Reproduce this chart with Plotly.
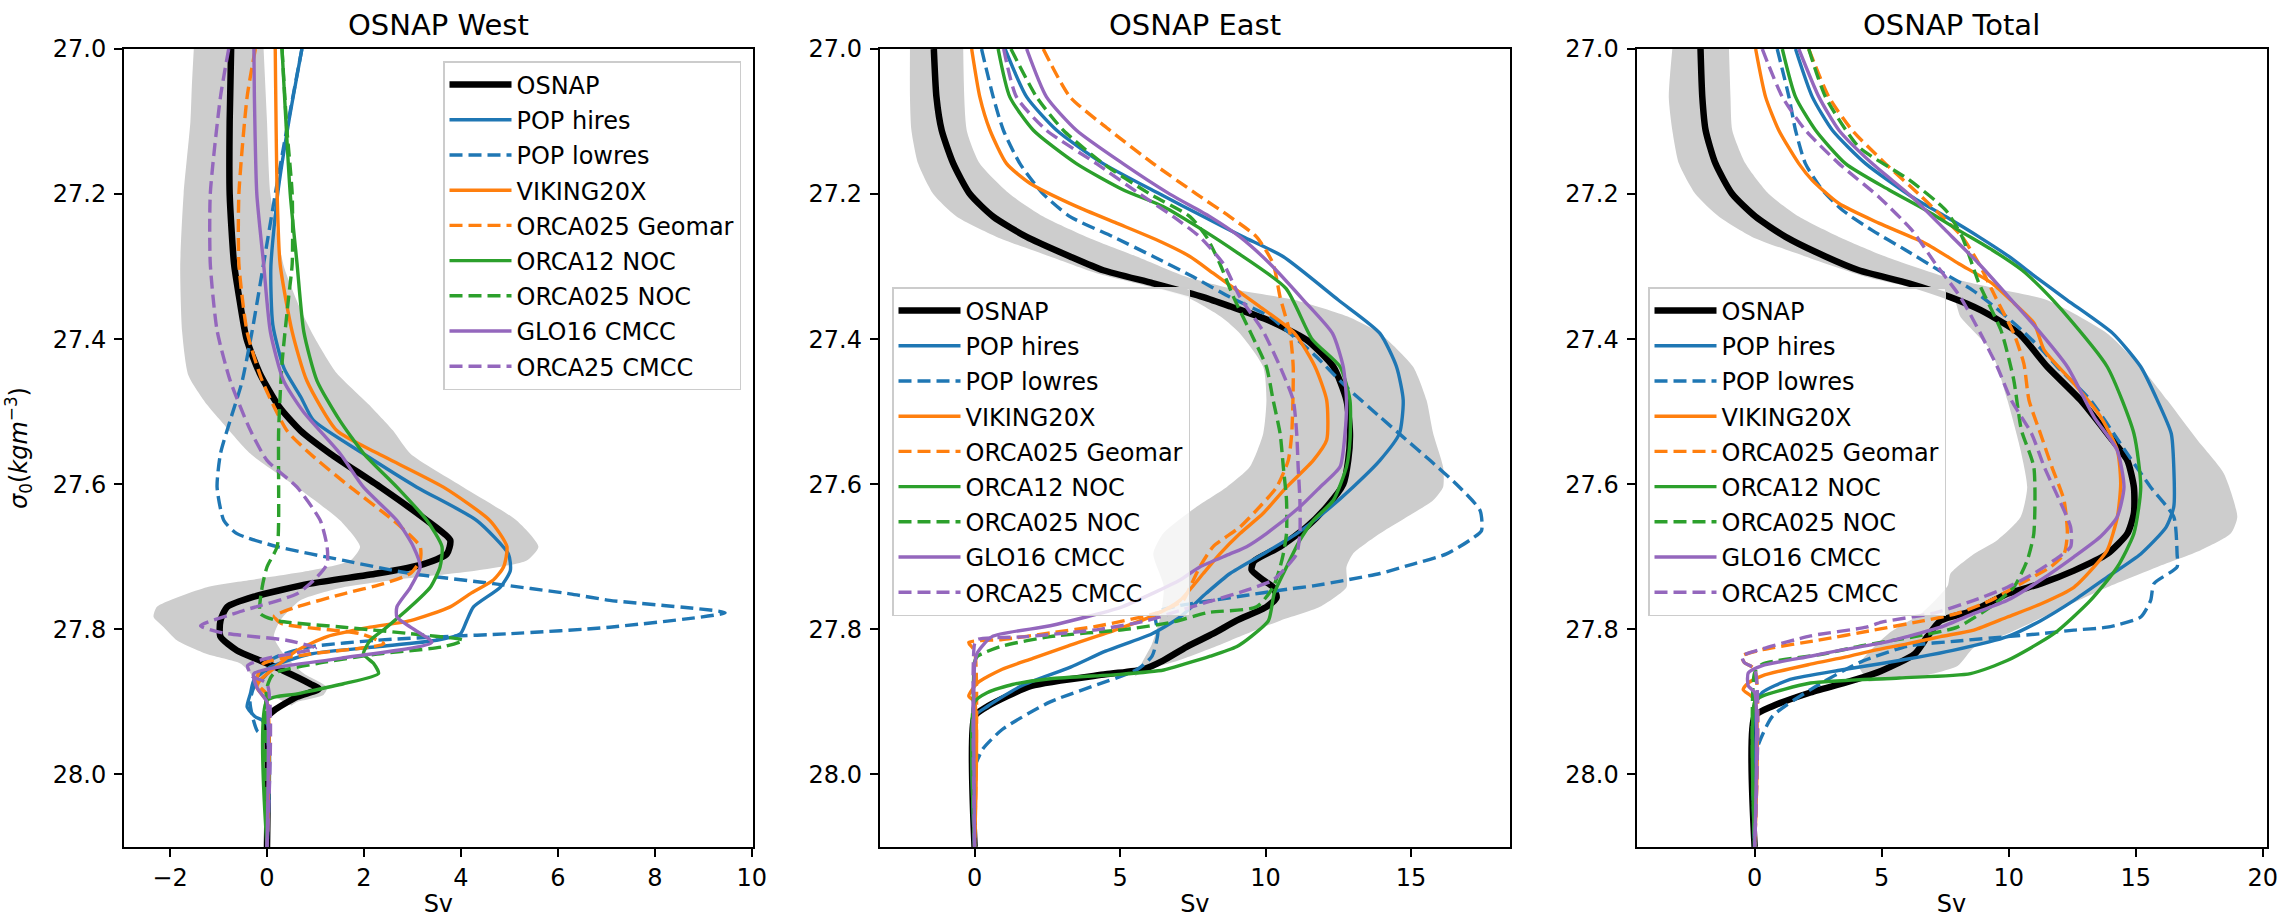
import plotly.graph_objects as go

# ===================== OSNAP West =====================
W_BAND_LEFT_SIG = [27.0, 27.05, 27.1, 27.2, 27.3, 27.39, 27.45, 27.49, 27.512, 27.558, 27.604, 27.65, 27.686, 27.705, 27.719, 27.732, 27.742, 27.769, 27.783, 27.797, 27.815, 27.834, 27.847, 27.861, 27.88, 27.895, 27.905]
W_BAND_LEFT_SV = [-1.51, -1.55, -1.58, -1.72, -1.79, -1.75, -1.62, -1.24, -0.96, -0.34, 0.62, 1.51, 1.92, 1.72, 0.89, -0.34, -1.24, -2.27, -2.34, -2.13, -1.86, -1.24, -0.55, -0.34, -0.21, 0.21, 0.5]
W_BAND_RIGHT_SIG = [27.0, 27.1, 27.2, 27.3, 27.36, 27.4, 27.447, 27.49, 27.526, 27.558, 27.604, 27.65, 27.686, 27.705, 27.719, 27.732, 27.742, 27.76, 27.788, 27.81, 27.834, 27.861, 27.88, 27.89, 27.9, 27.905]
W_BAND_RIGHT_SV = [-0.07, 0.0, 0.07, 0.35, 0.7, 1.0, 1.44, 2.1, 2.6, 2.96, 4.05, 5.15, 5.6, 5.36, 4.33, 2.61, 1.58, 0.69, 0.27, 0.14, 0.34, 0.76, 1.24, 1.17, 0.62, 0.5]

W_OSNAP_SIG = [27.0, 27.1, 27.2, 27.296, 27.34, 27.4, 27.447, 27.493, 27.526, 27.558, 27.604, 27.65, 27.677, 27.696, 27.71, 27.723, 27.737, 27.755, 27.769, 27.788, 27.81, 27.829, 27.843, 27.857, 27.875, 27.882, 27.893, 27.912, 27.925, 27.935, 28.1]
W_OSNAP_SV = [-0.74, -0.77, -0.77, -0.68, -0.58, -0.42, -0.15, 0.25, 0.69, 1.31, 2.34, 3.30, 3.78, 3.71, 3.23, 2.27, 0.89, -0.27, -0.82, -0.96, -0.96, -0.62, -0.14, 0.34, 0.89, 1.07, 0.62, 0.14, -0.05, 0.0, 0.0]

W_POPH_SIG = [27.0, 27.1, 27.2, 27.3, 27.38, 27.44, 27.48, 27.512, 27.558, 27.604, 27.65, 27.696, 27.719, 27.742, 27.769, 27.788, 27.806, 27.815, 27.824, 27.834, 27.852, 27.87, 27.888, 27.907, 27.92, 27.93, 28.1]
W_POPH_SV = [0.72, 0.45, 0.22, 0.08, 0.12, 0.35, 0.7, 0.96, 1.99, 3.09, 4.33, 4.98, 5.02, 4.81, 4.26, 4.12, 3.99, 3.5, 2.27, 0.89, 0.07, -0.27, -0.34, -0.41, -0.25, 0.0, 0.0]

W_POPL_SIG = [27.0, 27.11, 27.2, 27.296, 27.39, 27.46, 27.512, 27.558, 27.604, 27.65, 27.668, 27.686, 27.705, 27.723, 27.737, 27.751, 27.76, 27.777, 27.797, 27.806, 27.81, 27.815, 27.824, 27.834, 27.843, 27.861, 27.88, 27.9, 27.92, 27.94, 27.95, 28.1]
W_POPL_SV = [0.72, 0.41, 0.17, -0.07, -0.31, -0.52, -0.76, -0.96, -1.03, -0.89, -0.62, 0.21, 1.58, 2.96, 4.67, 6.25, 7.07, 9.45, 7.07, 5.0, 3.64, 2.27, 0.89, 0.34, 0.07, 0.0, -0.27, -0.35, -0.3, -0.2, 0.0, 0.0]

W_VIK_SIG = [27.0, 27.2, 27.296, 27.39, 27.457, 27.526, 27.558, 27.604, 27.65, 27.686, 27.714, 27.732, 27.751, 27.769, 27.788, 27.797, 27.81, 27.829, 27.847, 27.87, 27.88, 27.9, 28.1]
W_VIK_SV = [0.17, 0.21, 0.27, 0.52, 0.82, 1.44, 2.3, 3.64, 4.6, 4.95, 4.88, 4.67, 4.19, 3.78, 2.96, 2.13, 1.24, 0.62, 0.27, -0.14, -0.21, 0.0, 0.0]

W_GEO_SIG = [27.0, 27.066, 27.2, 27.296, 27.39, 27.457, 27.526, 27.558, 27.604, 27.65, 27.686, 27.705, 27.723, 27.737, 27.751, 27.769, 27.782, 27.792, 27.806, 27.82, 27.834, 27.847, 27.87, 27.88, 27.89, 28.1]
W_GEO_SV = [-0.24, -0.41, -0.58, -0.58, -0.41, -0.10, 0.41, 0.89, 1.72, 2.61, 3.16, 3.16, 2.96, 2.41, 1.58, 0.62, 0.15, 0.3, 1.92, 2.41, 0.89, -0.07, -0.21, -0.14, 0.0, 0.0]

W_O12_SIG = [27.0, 27.2, 27.296, 27.39, 27.457, 27.512, 27.558, 27.604, 27.65, 27.686, 27.714, 27.742, 27.769, 27.797, 27.815, 27.834, 27.847, 27.861, 27.875, 27.889, 27.898, 28.1]
W_O12_SV = [0.31, 0.48, 0.62, 0.76, 1.03, 1.5, 2.0, 2.68, 3.3, 3.61, 3.57, 3.37, 2.96, 2.47, 2.13, 1.99, 2.2, 2.3, 1.58, 0.62, 0.0, 0.0]

W_O025N_SIG = [27.0, 27.11, 27.2, 27.296, 27.34, 27.433, 27.526, 27.604, 27.65, 27.686, 27.714, 27.742, 27.778, 27.788, 27.797, 27.806, 27.815, 27.824, 27.834, 27.847, 27.861, 27.88, 28.1]
W_O025N_SV = [0.31, 0.41, 0.52, 0.52, 0.45, 0.31, 0.24, 0.24, 0.24, 0.21, 0.0, -0.10, -0.14, 0.21, 1.58, 2.96, 4.05, 3.64, 2.27, 1.03, 0.14, 0.0, 0.0]

W_GLO_SIG = [27.0, 27.066, 27.2, 27.296, 27.39, 27.457, 27.5, 27.558, 27.604, 27.65, 27.686, 27.714, 27.742, 27.769, 27.783, 27.797, 27.818, 27.84, 27.861, 27.88, 27.893, 27.9, 28.1]
W_GLO_SV = [-0.27, -0.26, -0.21, -0.07, 0.07, 0.34, 0.75, 1.51, 1.99, 2.68, 3.02, 3.16, 2.96, 2.68, 2.68, 2.96, 3.4, 1.5, -0.27, -0.21, -0.07, 0.0, 0.0]

W_O25C_SIG = [27.0, 27.066, 27.2, 27.296, 27.388, 27.457, 27.526, 27.567, 27.604, 27.65, 27.686, 27.71, 27.728, 27.751, 27.774, 27.795, 27.805, 27.815, 27.826, 27.84, 27.85, 27.865, 27.875, 28.1]
W_O25C_SV = [-0.79, -0.96, -1.17, -1.17, -1.03, -0.76, -0.34, 0.0, 0.62, 1.1, 1.24, 1.24, 1.03, 0.62, -0.48, -1.37, -0.9, 0.4, 1.0, 0.0, -0.4, -0.3, 0.0, 0.0]

# ===================== OSNAP East =====================
E_BAND_LEFT_SIG = [27.0, 27.066, 27.112, 27.158, 27.2, 27.231, 27.259, 27.286, 27.309, 27.323, 27.342, 27.37, 27.392, 27.438, 27.484, 27.53, 27.576, 27.604, 27.631, 27.668, 27.696, 27.74, 27.78, 27.82, 27.85, 27.865]
E_BAND_LEFT_SV = [-2.22, -2.22, -2.17, -1.94, -1.42, -0.62, 0.76, 2.59, 4.19, 5.57, 7.28, 8.5, 9.12, 9.92, 10.03, 9.92, 9.46, 8.66, 7.63, 6.48, 6.14, 6.5, 6.4, 6.1, 5.7, 5.5]
E_BAND_RIGHT_SIG = [27.0, 27.112, 27.158, 27.2, 27.231, 27.259, 27.286, 27.314, 27.332, 27.346, 27.37, 27.392, 27.438, 27.484, 27.53, 27.576, 27.604, 27.622, 27.64, 27.668, 27.696, 27.714, 27.742, 27.769, 27.788, 27.806, 27.825, 27.843, 27.855, 27.865]
E_BAND_RIGHT_SV = [-0.39, -0.27, 0.18, 1.21, 2.36, 3.85, 5.57, 7.28, 9.0, 11.0, 12.9, 13.93, 15.07, 15.53, 15.76, 16.1, 16.1, 15.76, 15.07, 13.93, 13.0, 12.78, 12.78, 11.87, 10.5, 9.35, 8.2, 7.0, 6.0, 5.5]

E_OSNAP_SIG = [27.0, 27.066, 27.112, 27.158, 27.2, 27.231, 27.259, 27.286, 27.305, 27.323, 27.342, 27.355, 27.374, 27.401, 27.438, 27.484, 27.53, 27.567, 27.6, 27.631, 27.659, 27.686, 27.706, 27.718, 27.732, 27.742, 27.756, 27.769, 27.788, 27.806, 27.824, 27.843, 27.855, 27.862, 27.878, 27.906, 27.92, 28.1]
E_OSNAP_SV = [-1.40, -1.31, -1.13, -0.73, -0.16, 0.64, 1.79, 3.28, 4.42, 6.14, 7.86, 8.8, 10.1, 11.41, 12.33, 12.78, 12.9, 12.84, 12.67, 12.1, 11.41, 10.5, 9.6, 9.52, 9.92, 10.26, 10.38, 10.03, 9.0, 8.2, 7.29, 6.48, 5.8, 4.5, 1.95, 0.45, 0.0, 0.0]

E_POPH_SIG = [27.0, 27.066, 27.112, 27.158, 27.2, 27.231, 27.259, 27.286, 27.346, 27.392, 27.438, 27.484, 27.53, 27.567, 27.604, 27.64, 27.668, 27.696, 27.723, 27.75, 27.783, 27.806, 27.83, 27.852, 27.878, 27.906, 27.92, 28.1]
E_POPH_SV = [1.05, 1.79, 2.82, 4.42, 6.37, 7.86, 9.23, 10.6, 12.5, 13.93, 14.5, 14.73, 14.6, 13.93, 13.0, 11.98, 11.07, 9.92, 8.78, 7.97, 7.06, 6.1, 4.5, 3.3, 1.6, 0.45, 0.0, 0.0]

E_POPL_SIG = [27.0, 27.066, 27.112, 27.158, 27.2, 27.231, 27.259, 27.286, 27.314, 27.342, 27.369, 27.388, 27.42, 27.466, 27.507, 27.535, 27.567, 27.6, 27.636, 27.664, 27.677, 27.696, 27.71, 27.723, 27.732, 27.74, 27.746, 27.753, 27.76, 27.767, 27.774, 27.78, 27.805, 27.837, 27.855, 27.9, 27.938, 27.965, 27.98, 27.99, 28.1]
E_POPL_SV = [0.24, 0.64, 0.99, 1.56, 2.36, 3.28, 4.77, 6.14, 7.51, 8.77, 10.15, 10.72, 11.64, 12.78, 13.93, 14.73, 15.65, 16.56, 17.37, 17.42, 17.02, 16.22, 15.07, 13.93, 12.78, 11.64, 10.5, 9.35, 8.2, 7.06, 6.37, 6.2, 6.3, 6.1, 5.6, 2.6, 0.95, 0.28, 0.1, 0.0, 0.0]

E_VIK_SIG = [27.0, 27.066, 27.112, 27.158, 27.185, 27.217, 27.24, 27.263, 27.286, 27.309, 27.332, 27.355, 27.392, 27.438, 27.484, 27.539, 27.567, 27.604, 27.64, 27.668, 27.696, 27.723, 27.76, 27.78, 27.8, 27.823, 27.84, 27.855, 27.874, 27.892, 27.9, 28.1]
E_VIK_SV = [-0.10, 0.18, 0.53, 1.1, 1.9, 3.5, 4.88, 6.25, 7.4, 8.2, 9.0, 9.8, 11.0, 11.7, 12.1, 12.1, 11.64, 10.72, 9.92, 9.12, 8.43, 7.86, 7.06, 6.2, 4.9, 3.2, 2.0, 0.95, 0.1, -0.2, 0.0, 0.0]

E_GEO_SIG = [27.0, 27.066, 27.112, 27.158, 27.2, 27.231, 27.259, 27.296, 27.342, 27.392, 27.438, 27.53, 27.567, 27.604, 27.631, 27.659, 27.686, 27.714, 27.742, 27.76, 27.777, 27.795, 27.805, 27.814, 27.818, 27.83, 28.1]
E_GEO_SV = [2.36, 3.28, 4.65, 6.14, 7.63, 8.77, 9.69, 10.26, 10.5, 10.84, 10.95, 10.9, 10.78, 10.38, 9.8, 9.12, 8.2, 7.74, 7.4, 7.17, 6.3, 4.3, 2.6, 0.95, -0.2, 0.0, 0.0]

E_O12_SIG = [27.0, 27.066, 27.112, 27.158, 27.194, 27.217, 27.25, 27.28, 27.33, 27.4, 27.438, 27.484, 27.54, 27.576, 27.622, 27.65, 27.677, 27.714, 27.75, 27.788, 27.81, 27.824, 27.837, 27.848, 27.856, 27.862, 27.868, 27.876, 27.887, 27.9, 28.1]
E_O12_SV = [0.81, 1.21, 2.02, 3.5, 5.1, 6.48, 7.86, 9.0, 10.7, 11.6, 12.56, 12.9, 12.9, 12.78, 12.33, 11.64, 11.18, 10.72, 10.3, 10.1, 9.5, 9.0, 8.1, 7.2, 6.5, 5.0, 2.6, 1.3, 0.45, 0.0, 0.0]

E_O025N_SIG = [27.0, 27.066, 27.112, 27.158, 27.2, 27.231, 27.259, 27.296, 27.342, 27.392, 27.438, 27.484, 27.53, 27.576, 27.622, 27.668, 27.696, 27.714, 27.742, 27.769, 27.777, 27.79, 27.8, 27.81, 27.823, 27.837, 27.845, 28.1]
E_O025N_SV = [1.25, 2.13, 3.05, 4.42, 6.03, 7.4, 7.97, 8.43, 8.9, 9.5, 10.03, 10.26, 10.5, 10.61, 10.72, 10.72, 10.61, 10.5, 10.26, 9.69, 8.0, 6.8, 5.2, 2.6, 0.95, 0.1, 0.0, 0.0]

E_GLO_SIG = [27.0, 27.066, 27.112, 27.158, 27.2, 27.231, 27.259, 27.296, 27.346, 27.392, 27.438, 27.484, 27.53, 27.576, 27.604, 27.631, 27.668, 27.686, 27.696, 27.714, 27.732, 27.75, 27.77, 27.795, 27.81, 27.832, 27.85, 28.1]
E_GLO_SV = [1.79, 2.47, 3.5, 5.1, 6.71, 8.09, 9.12, 10.15, 11.3, 12.3, 12.67, 12.78, 12.73, 12.56, 11.87, 11.18, 10.03, 9.35, 8.78, 7.74, 7.06, 6.14, 5.0, 2.6, 0.6, 0.1, 0.0, 0.0]

E_O25C_SIG = [27.0, 27.066, 27.112, 27.158, 27.2, 27.231, 27.259, 27.296, 27.342, 27.388, 27.438, 27.484, 27.53, 27.576, 27.622, 27.668, 27.696, 27.714, 27.732, 27.746, 27.76, 27.774, 27.788, 27.8, 27.81, 27.814, 27.82, 28.1]
E_O25C_SV = [1.0, 1.44, 2.47, 4.19, 5.68, 6.83, 7.74, 8.55, 9.12, 9.9, 10.5, 10.95, 11.07, 11.12, 11.18, 11.18, 11.07, 10.72, 10.26, 9.35, 8.2, 7.06, 5.91, 4.3, 1.8, 0.1, 0.0, 0.0]

# ===================== OSNAP Total =====================
T_BAND_LEFT_SIG = [27.0, 27.066, 27.112, 27.158, 27.2, 27.231, 27.259, 27.286, 27.314, 27.328, 27.345, 27.369, 27.415, 27.484, 27.553, 27.604, 27.645, 27.677, 27.696, 27.723, 27.74, 27.777, 27.805, 27.85, 27.872]
T_BAND_LEFT_SV = [-3.24, -3.38, -3.24, -2.98, -2.33, -1.41, -0.1, 2.0, 4.37, 6.07, 7.84, 8.1, 9.29, 9.95, 10.47, 10.73, 10.47, 9.55, 8.63, 7.71, 7.6, 6.6, 5.3, 4.1, 4.5]
T_BAND_RIGHT_SIG = [27.0, 27.066, 27.112, 27.158, 27.2, 27.231, 27.259, 27.286, 27.314, 27.33, 27.346, 27.392, 27.438, 27.484, 27.539, 27.585, 27.645, 27.668, 27.691, 27.714, 27.742, 27.774, 27.806, 27.825, 27.85, 27.865, 27.872]
T_BAND_RIGHT_SV = [-1.01, -0.95, -0.88, -0.36, 0.56, 1.74, 3.32, 5.15, 7.5, 9.5, 11.5, 13.88, 15.2, 16.24, 17.43, 18.47, 19.0, 18.74, 17.56, 15.85, 13.88, 11.91, 9.95, 8.63, 8.0, 6.5, 4.5]

T_OSNAP_SIG = [27.0, 27.066, 27.112, 27.158, 27.2, 27.231, 27.259, 27.286, 27.305, 27.323, 27.342, 27.36, 27.392, 27.438, 27.484, 27.53, 27.567, 27.604, 27.64, 27.668, 27.696, 27.719, 27.737, 27.751, 27.774, 27.788, 27.81, 27.834, 27.857, 27.869, 27.887, 27.906, 27.92, 28.1]
T_OSNAP_SV = [-2.13, -2.06, -1.93, -1.54, -0.88, 0.03, 1.22, 2.79, 4.1, 6.07, 7.7, 8.9, 10.4, 11.52, 12.83, 13.88, 14.67, 14.93, 14.93, 14.67, 13.88, 12.57, 11.26, 9.95, 8.63, 7.32, 6.8, 6.3, 5.0, 4.0, 2.2, 0.7, 0.0, 0.0]

T_POPH_SIG = [27.0, 27.066, 27.112, 27.158, 27.204, 27.231, 27.259, 27.286, 27.314, 27.346, 27.392, 27.438, 27.484, 27.53, 27.576, 27.631, 27.659, 27.696, 27.728, 27.76, 27.788, 27.81, 27.829, 27.838, 27.847, 27.856, 27.869, 27.887, 27.906, 28.1]
T_POPH_SV = [1.61, 2.27, 3.06, 4.37, 6.2, 7.52, 8.83, 10.01, 11.06, 12.3, 14.1, 15.2, 15.85, 16.4, 16.5, 16.5, 16.2, 15.2, 13.88, 12.57, 11.26, 9.95, 7.8, 6.5, 5.0, 3.4, 1.4, 0.3, 0.0, 0.0]

T_POPL_SIG = [27.0, 27.066, 27.112, 27.158, 27.194, 27.222, 27.25, 27.277, 27.305, 27.332, 27.36, 27.388, 27.415, 27.438, 27.484, 27.544, 27.604, 27.645, 27.696, 27.714, 27.737, 27.76, 27.783, 27.797, 27.801, 27.806, 27.81, 27.816, 27.823, 27.846, 27.883, 27.92, 27.975, 28.1]
T_POPL_SV = [0.89, 1.35, 1.61, 2.0, 2.66, 3.45, 4.63, 5.94, 7.25, 8.56, 9.61, 10.53, 11.32, 11.91, 13.22, 14.4, 15.59, 16.5, 16.63, 16.63, 15.72, 15.59, 15.2, 13.88, 12.57, 11.26, 9.95, 8.0, 6.05, 4.1, 2.2, 0.7, 0.0, 0.0]

T_VIK_SIG = [27.0, 27.066, 27.112, 27.158, 27.181, 27.213, 27.24, 27.268, 27.296, 27.323, 27.35, 27.378, 27.415, 27.461, 27.507, 27.553, 27.599, 27.645, 27.691, 27.714, 27.742, 27.765, 27.783, 27.801, 27.81, 27.82, 27.829, 27.838, 27.848, 27.864, 27.874, 27.883, 27.897, 28.1]
T_VIK_SV = [0.04, 0.43, 0.95, 1.74, 2.27, 3.32, 4.89, 6.73, 8.04, 9.35, 10.2, 11.0, 11.4, 12.57, 13.62, 14.28, 14.41, 14.28, 13.88, 13.36, 12.57, 11.26, 9.95, 8.63, 7.32, 6.0, 4.69, 3.6, 2.2, 0.3, -0.25, -0.45, 0.0, 0.0]

T_GEO_SIG = [27.0, 27.066, 27.112, 27.158, 27.2, 27.231, 27.259, 27.296, 27.342, 27.392, 27.434, 27.484, 27.53, 27.576, 27.622, 27.668, 27.696, 27.714, 27.732, 27.76, 27.778, 27.788, 27.801, 27.815, 27.828, 27.837, 27.846, 27.855, 28.1]
T_GEO_SV = [2.13, 2.92, 3.84, 5.15, 6.46, 7.38, 8.17, 8.83, 9.48, 10.2, 10.6, 10.8, 11.25, 11.7, 12.18, 12.31, 12.18, 11.65, 10.73, 9.29, 7.98, 6.67, 4.69, 2.5, 0.3, -0.5, -0.4, 0.0, 0.0]

T_O12_SIG = [27.0, 27.066, 27.112, 27.158, 27.194, 27.222, 27.25, 27.277, 27.305, 27.33, 27.36, 27.438, 27.53, 27.604, 27.668, 27.714, 27.76, 27.806, 27.843, 27.861, 27.867, 27.874, 27.892, 27.9, 28.1]
T_O12_SV = [1.09, 1.61, 2.4, 3.58, 5.28, 6.73, 8.04, 9.35, 10.53, 11.3, 12.1, 13.88, 14.93, 15.2, 14.93, 14.28, 13.22, 11.78, 9.94, 8.5, 5.7, 2.2, 0.3, 0.0, 0.0]

T_O025N_SIG = [27.0, 27.066, 27.135, 27.18, 27.222, 27.259, 27.323, 27.388, 27.456, 27.525, 27.576, 27.668, 27.705, 27.742, 27.769, 27.797, 27.81, 27.822, 27.834, 27.848, 27.86, 28.1]
T_O025N_SV = [2.13, 2.79, 4.1, 6.07, 7.52, 8.17, 8.83, 9.7, 10.2, 10.5, 10.99, 10.99, 10.73, 10.2, 9.29, 7.98, 6.3, 4.3, 2.7, 0.3, 0.0, 0.0]

T_GLO_SIG = [27.0, 27.066, 27.112, 27.158, 27.204, 27.25, 27.296, 27.342, 27.378, 27.438, 27.507, 27.553, 27.604, 27.645, 27.672, 27.7, 27.732, 27.76, 27.778, 27.797, 27.81, 27.818, 27.828, 27.837, 27.85, 27.86, 27.878, 27.887, 28.1]
T_GLO_SV = [1.74, 2.53, 3.32, 4.63, 6.2, 7.52, 8.83, 10.01, 10.93, 12.31, 13.36, 14.27, 14.54, 14.27, 13.62, 12.57, 11.26, 9.95, 8.63, 7.32, 6.0, 5.1, 3.5, 2.2, 0.3, -0.25, -0.25, 0.0, 0.0]

T_O25C_SIG = [27.0, 27.066, 27.112, 27.158, 27.204, 27.25, 27.296, 27.342, 27.392, 27.438, 27.484, 27.53, 27.576, 27.622, 27.659, 27.686, 27.705, 27.723, 27.742, 27.76, 27.778, 27.79, 27.797, 27.809, 27.827, 27.837, 27.846, 27.855, 28.1]
T_O25C_SV = [0.3, 1.09, 2.0, 3.32, 4.89, 6.2, 7.12, 8.1, 8.89, 9.55, 10.1, 10.9, 11.4, 12.0, 12.44, 12.44, 11.78, 10.99, 9.95, 8.63, 7.0, 5.0, 4.4, 2.2, 0.3, -0.5, -0.4, 0.0, 0.0]

# ===================== labels / ticks =====================
SERIES = ["OSNAP", "POP hires", "POP lowres", "VIKING20X", "ORCA025 Geomar",
          "ORCA12 NOC", "ORCA025 NOC", "GLO16 CMCC", "ORCA25 CMCC"]
TITLES = ["OSNAP West", "OSNAP East", "OSNAP Total"]
Y_TICKS = [27.0, 27.2, 27.4, 27.6, 27.8, 28.0]
X_TICKS = [[-2, 0, 2, 4, 6, 8, 10], [0, 5, 10, 15], [0, 5, 10, 15, 20]]

WEST = [(W_OSNAP_SIG, W_OSNAP_SV), (W_POPH_SIG, W_POPH_SV), (W_POPL_SIG, W_POPL_SV),
        (W_VIK_SIG, W_VIK_SV), (W_GEO_SIG, W_GEO_SV), (W_O12_SIG, W_O12_SV),
        (W_O025N_SIG, W_O025N_SV), (W_GLO_SIG, W_GLO_SV), (W_O25C_SIG, W_O25C_SV)]
EAST = [(E_OSNAP_SIG, E_OSNAP_SV), (E_POPH_SIG, E_POPH_SV), (E_POPL_SIG, E_POPL_SV),
        (E_VIK_SIG, E_VIK_SV), (E_GEO_SIG, E_GEO_SV), (E_O12_SIG, E_O12_SV),
        (E_O025N_SIG, E_O025N_SV), (E_GLO_SIG, E_GLO_SV), (E_O25C_SIG, E_O25C_SV)]
TOTAL = [(T_OSNAP_SIG, T_OSNAP_SV), (T_POPH_SIG, T_POPH_SV), (T_POPL_SIG, T_POPL_SV),
         (T_VIK_SIG, T_VIK_SV), (T_GEO_SIG, T_GEO_SV), (T_O12_SIG, T_O12_SV),
         (T_O025N_SIG, T_O025N_SV), (T_GLO_SIG, T_GLO_SV), (T_O25C_SIG, T_O25C_SV)]
BANDS = [(W_BAND_LEFT_SIG, W_BAND_LEFT_SV, W_BAND_RIGHT_SIG, W_BAND_RIGHT_SV),
         (E_BAND_LEFT_SIG, E_BAND_LEFT_SV, E_BAND_RIGHT_SIG, E_BAND_RIGHT_SV),
         (T_BAND_LEFT_SIG, T_BAND_LEFT_SV, T_BAND_RIGHT_SIG, T_BAND_RIGHT_SV)]

# ===================== styles =====================
BLUE, ORANGE, GREEN, PURPLE = "#1f77b4", "#ff7f0e", "#2ca02c", "#9467bd"
COLORS = ["black", BLUE, BLUE, ORANGE, ORANGE, GREEN, GREEN, PURPLE, PURPLE]
DASHED = [False, False, True, False, True, False, True, False, True]
WIDTHS = [6.5, 3.4, 3.4, 3.4, 3.4, 3.4, 3.4, 3.4, 3.4]
DASH_PATTERN = "13px,6px"
FONT = "DejaVu Sans"

W, H = 2280, 918
X_DOMAINS = [[124 / W, 752.7 / W], [879.7 / W, 1510 / W], [1636.5 / W, 2266.5 / W]]
Y_DOMAIN = [1 - 847 / H, 1 - 49 / H]
X_RANGES = [[-2.95, 10.02], [-3.26, 18.4], [-4.65, 20.15]]
LEGEND_POS = [dict(x=741 / W, xanchor="right", y=1 - 61 / H),
              dict(x=892 / W, xanchor="left", y=1 - 287 / H),
              dict(x=1648 / W, xanchor="left", y=1 - 287 / H)]

fig = go.Figure()
panels = [WEST, EAST, TOTAL]
for p in range(3):
    suffix = "" if p == 0 else str(p + 1)
    xa, ya = "x" + suffix, "y" + suffix
    lg = "legend" + suffix
    ls, lv, rs, rv = BANDS[p]
    fig.add_trace(go.Scatter(
        x=list(lv) + list(rv)[::-1], y=list(ls) + list(rs)[::-1],
        mode="lines", fill="toself", fillcolor="#cdcdcd",
        line=dict(width=0, shape="spline", smoothing=0.6),
        showlegend=False, hoverinfo="skip", xaxis=xa, yaxis=ya, legend=lg))
    for i, (sig, sv) in enumerate(panels[p]):
        fig.add_trace(go.Scatter(
            x=sv, y=sig, mode="lines", name=SERIES[i],
            line=dict(color=COLORS[i], width=WIDTHS[i],
                      dash=DASH_PATTERN if DASHED[i] else "solid",
                      shape="spline", smoothing=0.6),
            legendgroup=f"g{p}_{i}", legend=lg,
            xaxis=xa, yaxis=ya))

axis_common = dict(showline=True, mirror=True, linecolor="black", linewidth=1.9,
                   ticks="outside", ticklen=8, tickwidth=1.9, tickcolor="black",
                   showgrid=False, zeroline=False, automargin=False,
                   tickfont=dict(family=FONT, size=24, color="black"))

layout = dict(
    width=W, height=H, margin=dict(l=0, r=0, t=0, b=0),
    paper_bgcolor="white", plot_bgcolor="white",
    font=dict(family=FONT, size=24, color="black"),
    annotations=[],
)
for p in range(3):
    suffix = "" if p == 0 else str(p + 1)
    xa = dict(axis_common, domain=X_DOMAINS[p], range=X_RANGES[p],
              tickvals=X_TICKS[p], ticktext=[str(v).replace("-", "\u2212") for v in X_TICKS[p]],
              anchor="y" + suffix, ticklabelstandoff=0,
              title=dict(text="Sv", font=dict(family=FONT, size=24), standoff=10))
    ya = dict(axis_common, domain=Y_DOMAIN, range=[28.1, 27.0],
              tickvals=Y_TICKS, ticktext=[f"{v:.1f}" for v in Y_TICKS],
              anchor="x" + suffix, ticklabelstandoff=3)
    if p == 0:
        ya["title"] = dict(text="<i>σ</i><sub>0</sub>(<i>kgm</i><sup>−3</sup>)",
                           font=dict(family=FONT, size=24), standoff=18)
    layout["xaxis" + suffix] = xa
    layout["yaxis" + suffix] = ya
    layout["legend" + suffix] = dict(
        LEGEND_POS[p], yanchor="top", bgcolor="rgba(255,255,255,0.8)",
        bordercolor="#cccccc", borderwidth=1.5, tracegroupgap=1, itemwidth=62,
        font=dict(family=FONT, size=24, color="black"))
    layout["annotations"].append(dict(
        text=TITLES[p], xref="paper", yref="paper",
        x=(X_DOMAINS[p][0] + X_DOMAINS[p][1]) / 2, y=1 - 25 / H,
        xanchor="center", yanchor="middle", showarrow=False,
        font=dict(family=FONT, size=29, color="black")))

fig.update_layout(**layout)
fig.write_html("out.html",
               config={"displayModeBar": False},
               post_script="document.body.style.margin='0';"
                           "document.documentElement.style.overflow='hidden';"
                           "document.body.style.overflow='hidden';")
